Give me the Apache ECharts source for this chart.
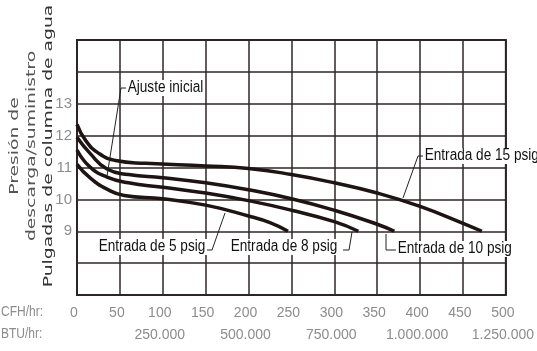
<!DOCTYPE html>
<html>
<head>
<meta charset="utf-8">
<script src="https://cdn.jsdelivr.net/npm/echarts@6/dist/echarts.min.js"></script>
<style>
  html, body { margin: 0; padding: 0; background: #fff; }
  #chart { width: 537px; height: 351px; }
</style>
</head>
<body>
<div id="chart"></div>
<script>
// datos (CFH/hr, pulgadas de columna de agua)
const entrada15 = [[0, 12.35], [10, 11.85], [25, 11.45], [45, 11.22], [80, 11.13], [150, 11.05], [200, 10.97], [250, 10.78], [300, 10.52], [350, 10.2], [400, 9.78], [450, 9.25], [472, 9.0]];
const entrada10 = [[0, 11.95], [15, 11.45], [35, 10.95], [60, 10.78], [100, 10.68], [150, 10.52], [200, 10.3], [250, 10.02], [300, 9.66], [350, 9.22], [370, 9.0]];
const entrada8 = [[0, 11.55], [15, 11.02], [35, 10.7], [60, 10.52], [100, 10.38], [150, 10.2], [200, 9.96], [250, 9.66], [300, 9.3], [328, 9.0]];
const entrada5 = [[0, 11.1], [15, 10.68], [35, 10.32], [55, 10.12], [100, 10.02], [150, 9.82], [200, 9.48], [225, 9.27], [246, 9.0]];

const cfhTicks = [0, 50, 100, 150, 200, 250, 300, 350, 400, 450, 500];
const btuLabels = { 100: '250.000', 200: '500.000', 300: '750.000', 400: '1.000.000', 500: '1.250.000' };
const yTicks = [9, 10, 11, 12, 13];

const sans = "'Liberation Sans', Arial, sans-serif";
const lineColor = '#1e1414';
const gridColor = '#2e2626';
const labelGray = '#8c8c8c';

const myChart = echarts.init(document.getElementById('chart'));

function curve(name, data) {
  return {
    name,
    type: 'line',
    data,
    smooth: 0.5,
    symbol: 'none',
    lineStyle: { color: lineColor, width: 3.5 },
    z: 5,
  };
}

// etiquetas y lineas guia (texto estrecho: Liberation Sans comprimido)
function etiqueta(text, x, y) {
  return {
    type: 'text',
    x, y, z: 100, scaleX: 0.85,
    style: {
      text, fill: '#111', font: '16px ' + sans,
      verticalAlign: 'middle', align: 'left',
      backgroundColor: '#fff', padding: [0, 2],
    },
  };
}
function guia(points) {
  return {
    type: 'polyline', z: 100,
    shape: { points },
    style: { stroke: '#222', lineWidth: 1, fill: null },
  };
}
function titulo(text, x, color) {
  return {
    type: 'text', x, y: 146, rotation: Math.PI / 2, scaleX: 1.5, z: 100,
    style: {
      text, fill: color, font: '12.5px "DejaVu Sans", sans-serif',
      align: 'center', verticalAlign: 'middle',
    },
  };
}

// eje x: fila CFH y fila BTU (segundo eje con la misma escala)
function ejeX(formatter, margin) {
  return {
    type: 'value',
    position: 'bottom',
    min: 0, max: 500, interval: 50,
    axisLine: { show: false },
    axisTick: { show: false },
    splitLine: { show: margin < 20, lineStyle: { color: gridColor, width: 1.5 } },
    axisLabel: {
      margin,
      showMinLabel: true,
      showMaxLabel: true,
      color: labelGray,
      fontFamily: sans,
      fontSize: 14,
      padding: [0, 6, 0, 0],
      formatter,
    },
  };
}

const option = {
  backgroundColor: '#fff',
  animation: false,
  grid: {
    left: 77, right: 28, top: 40, bottom: 56,
    show: true, borderColor: gridColor, borderWidth: 2, backgroundColor: 'transparent',
  },
  xAxis: [
    ejeX((v) => (cfhTicks.includes(v) ? String(v) : ''), 11),
    ejeX((v) => btuLabels[v] || '', 33),
  ],
  yAxis: {
    type: 'value',
    min: 7, max: 15, interval: 1,
    axisLine: { show: false },
    axisTick: { show: false },
    splitLine: { show: true, lineStyle: { color: gridColor, width: 1.5 } },
    axisLabel: {
      margin: 5,
      color: labelGray,
      fontFamily: sans,
      fontSize: 15,
      formatter: (v) => (yTicks.includes(v) ? String(v) : ''),
    },
  },
  series: [
    curve('Entrada de 15 psig', entrada15),
    curve('Entrada de 10 psig', entrada10),
    curve('Entrada de 8 psig', entrada8),
    curve('Entrada de 5 psig', entrada5),
  ],
  graphic: [
    titulo('Presión de', 15, '#555'),
    titulo('descarga/suministro', 32, '#555'),
    titulo('Pulgadas de columna de agua', 49, '#333'),
    {
      type: 'text', x: 1, y: 312, z: 100, scaleX: 0.8,
      style: { text: 'CFH/hr:', fill: labelGray, font: '15px ' + sans, verticalAlign: 'middle' },
    },
    {
      type: 'text', x: 1, y: 334, z: 100, scaleX: 0.8,
      style: { text: 'BTU/hr:', fill: labelGray, font: '15px ' + sans, verticalAlign: 'middle' },
    },
    guia([[127, 88], [121, 88], [107, 176]]),
    etiqueta('Ajuste inicial', 126, 88),
    guia([[424, 156], [418, 156], [403, 198]]),
    etiqueta('Entrada de 15 psig', 423, 156),
    guia([[206, 250], [212, 250], [225, 213]]),
    etiqueta('Entrada de 5 psig', 97, 247),
    guia([[343, 250], [349, 250], [352, 232]]),
    etiqueta('Entrada de 8 psig', 229, 247),
    guia([[386, 234], [386, 250], [397, 250]]),
    etiqueta('Entrada de 10 psig', 396, 249),
  ],
};

myChart.setOption(option);
</script>
</body>
</html>
